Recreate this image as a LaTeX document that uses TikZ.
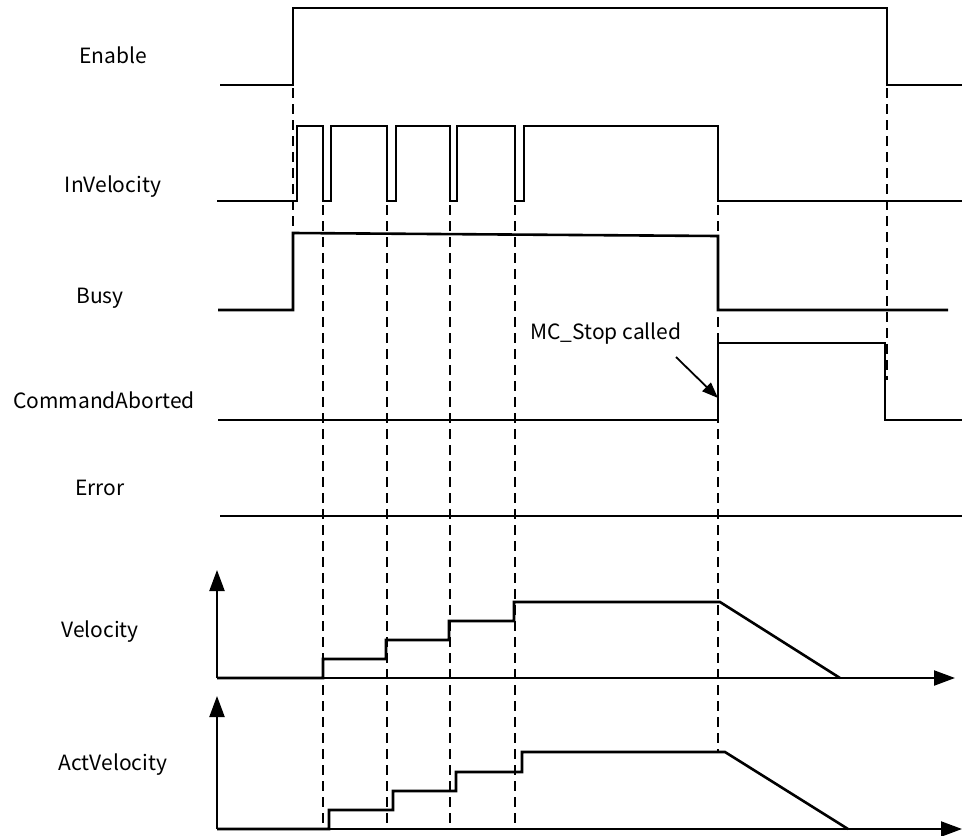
\documentclass[tikz,border=0pt]{standalone}
\usepackage{fontspec}
\setmainfont{Noto Sans CJK SC}
\usetikzlibrary{arrows.meta}
\begin{document}
\begin{tikzpicture}[x=1pt,y=-1pt,
  sig/.style={line width=2.6pt,line join=miter},
  axis/.style={line width=2.2pt,-{Triangle[length=21pt,width=15pt]}},
  guide/.style={line width=1.5pt,dash pattern=on 10pt off 6pt},
  lbl/.style={font=\fontsize{21}{24}\selectfont,inner sep=0pt}]
\useasboundingbox (0,0) rectangle (962,836);
% labels
\node[lbl] (en) at (113,55) {Enable};
\node[lbl] (inv) at (113,187) {InVelocity};
\node[lbl] (busy) at (100,298) {Busy};
\node[lbl] (ca) at (104,400) {CommandAborted};
\node[lbl] (err) at (100,488) {Error};
\node[lbl] (vel) at (100,632) {Velocity};
\node[lbl] (act) at (113,765) {ActVelocity};
% dashed guides
\draw[guide] (293,88) -- (293,236);
\draw[guide] (323,205) -- (323,829);
\draw[guide] (387,205) -- (387,829);
\draw[guide] (450,205) -- (450,829);
\draw[guide] (515,205) -- (515,829);
\draw[guide] (718,205) -- (718,752);
\draw[guide] (887,88) -- (887,380);
% Enable
\draw[sig] (220,85) -- (293,85) -- (293,8) -- (887,8) -- (887,85) -- (962,85);
% InVelocity
\draw[sig] (217,201) -- (297,201) -- (297,126) -- (323,126) -- (323,201) -- (331,201) -- (331,126)
  -- (387,126) -- (387,201) -- (396,201) -- (396,126) -- (450,126) -- (450,201) -- (457,201) -- (457,126)
  -- (515,126) -- (515,201) -- (524,201) -- (524,126) -- (718,126) -- (718,201) -- (962,201);
% Busy
\draw[sig] (218,310) -- (293,310) -- (293,233) -- (718,236) -- (718,310) -- (948,310);
% CommandAborted
\draw[sig] (218,420) -- (718,420) -- (718,343) -- (885,343) -- (885,420) -- (962,420);
\node[lbl] (stop) at (606,334) {MC\_Stop called};
\coordinate (stopend) at (718,398);
\draw[line width=1.8pt,-{Triangle[length=16pt,width=12pt]}] (676,357) -- (stopend);
% Error
\draw[line width=2pt] (220,516) -- (962,516);
% Velocity axes
\draw[axis] (217,678) -- (217,570);
\draw[axis] (217,678) -- (955,678);
\draw[sig] (217,678) -- (323,678) -- (323,659) -- (386,659) -- (386,640) -- (449,640) -- (449,621)
  -- (514,621) -- (514,602) -- (720,602) -- (840,678);
% ActVelocity axes
\draw[axis] (217,829) -- (217,696);
\draw[axis] (217,829) -- (962,829);
\draw[sig] (217,829) -- (329,829) -- (329,810) -- (393,810) -- (393,791) -- (456,791) -- (456,772)
  -- (522,772) -- (522,752) -- (725,752) -- (848,829);
\end{tikzpicture}
\end{document}
